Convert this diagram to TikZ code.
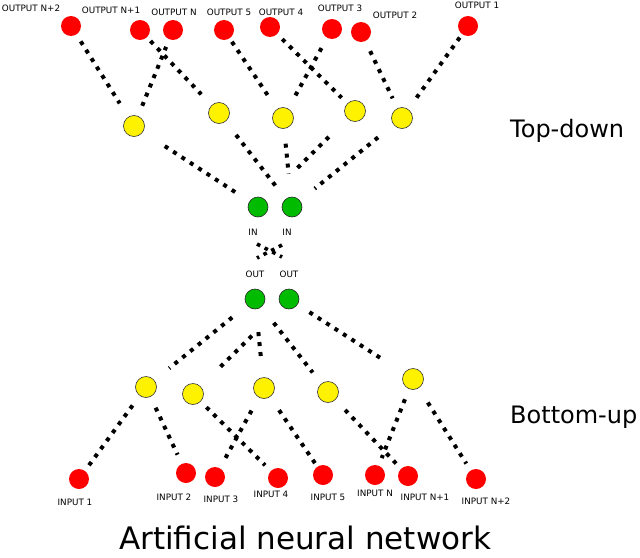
\documentclass[tikz,border=0pt]{standalone}
\usepackage{fontspec}
\setmainfont{DejaVu Sans}
\begin{document}
\begin{tikzpicture}[x=1pt,y=-1pt,
  neuron/.style={circle,minimum size=20pt,inner sep=0pt},
  outn/.style={neuron,fill=red},
  hid/.style={neuron,fill=yellow,draw=black!80,line width=0.6pt,minimum size=21pt},
  mid/.style={neuron,fill={rgb,255:red,0;green,187;blue,0},draw=black!85,line width=0.6pt},
  lbl/.style={font=\fontsize{8.8}{10}\selectfont,inner sep=0pt},
  conn/.style={line width=4pt,dash pattern=on 4pt off 6pt}]
\useasboundingbox (0,0) rectangle (640,557);
% outputs
\node[outn] (o6) at (71,26) {};
\node[outn] (o5) at (140,30) {};
\node[outn] (o4) at (173,30) {};
\node[outn] (oc5) at (224,30) {};
\node[outn] (oc4) at (270,27) {};
\node[outn] (oc3) at (332,29) {};
\node[outn] (oc2) at (361,32) {};
\node[outn] (oc1) at (468,26) {};
\node[lbl] (lo6) at (31,8) {OUTPUT N+2};
\node[lbl] (lo5) at (111,10) {OUTPUT N+1};
\node[lbl] (lo4) at (174,12) {OUTPUT N};
\node[lbl] (loc5) at (229,12) {OUTPUT 5};
\node[lbl] (loc4) at (281,12) {OUTPUT 4};
\node[lbl] (loc3) at (340,8) {OUTPUT 3};
\node[lbl] (loc2) at (395,15) {OUTPUT 2};
\node[lbl] (loc1) at (477,5) {OUTPUT 1};
% top hidden
\node[hid] (y1) at (134,126) {};
\node[hid] (y2) at (219,113) {};
\node[hid] (y3) at (283,118) {};
\node[hid] (y4) at (355,111) {};
\node[hid] (y5) at (402,118) {};
% middle
\node[mid] (g1) at (258,207) {};
\node[mid] (g2) at (292,207) {};
\node[lbl] (lin1) at (253,232) {IN};
\node[lbl] (lin2) at (287,232) {IN};
\node[lbl] (lout1) at (255,274) {OUT};
\node[lbl] (lout2) at (289,274) {OUT};
\node[mid] (h1) at (255,299) {};
\node[mid] (h2) at (289,299) {};
% bottom hidden
\node[hid] (b1) at (146,387) {};
\node[hid] (b2) at (193,394) {};
\node[hid] (b3) at (264,388) {};
\node[hid] (b4) at (328,392) {};
\node[hid] (b5) at (413,379) {};
% inputs
\node[outn] (i1) at (79,479) {};
\node[outn] (i2) at (186,473) {};
\node[outn] (i3) at (215,477) {};
\node[outn] (i4) at (278,478) {};
\node[outn] (i5) at (323,475) {};
\node[outn] (iN) at (375,475) {};
\node[outn] (iN1) at (408,476) {};
\node[outn] (iN2) at (476,479) {};
\node[lbl] (li1) at (75,502) {INPUT 1};
\node[lbl] (li2) at (174,497) {INPUT 2};
\node[lbl] (li3) at (221,499) {INPUT 3};
\node[lbl] (li4) at (271,494) {INPUT 4};
\node[lbl] (li5) at (328,497) {INPUT 5};
\node[lbl] (liN) at (375,493) {INPUT N};
\node[lbl] (liN1) at (425,497) {INPUT N+1};
\node[lbl] (liN2) at (486,501) {INPUT N+2};
% texts
\node[anchor=base west,inner sep=0pt,font=\fontsize{24}{28}\selectfont] (td) at (510,137) {Top-down};
\node[anchor=base west,inner sep=0pt,font=\fontsize{24}{28}\selectfont] (bu) at (510,423) {Bottom-up};
\node[anchor=base west,inner sep=0pt,text depth=0pt,font=\fontsize{31}{36}\selectfont] (title) at (119,549) {Artificial neural network};
% top connectors
\draw[conn,shorten <=8pt,shorten >=16pt] (o6) -- (y1);
\draw[conn,shorten <=11pt,shorten >=8pt] (y1) -- (o4);
\draw[conn,shorten <=5pt,shorten >=15pt] (o5) -- (y2);
\draw[conn,shorten <=4pt,shorten >=15pt] (oc5) -- (y3);
\draw[conn,shorten <=7pt,shorten >=8pt] (oc4) -- (y4);
\draw[conn,shorten <=15pt,shorten >=8pt] (y3) -- (oc3);
\draw[conn,shorten <=11pt,shorten >=11pt] (oc2) -- (y5);
\draw[conn,shorten <=4pt,shorten >=12pt] (oc1) -- (y5);
\draw[conn,shorten <=26pt,shorten >=15pt] (y1) -- (g1);
\draw[conn,shorten <=17pt,shorten >=15pt] (y2) -- (g2);
\draw[conn,shorten <=15pt,shorten >=23pt] (y3) -- (g2);
\draw[conn,shorten <=26pt,shorten >=41pt] (y4) -- (g1);
\draw[conn,shorten <=20pt,shorten >=19pt] (y5) -- (g2);
% cross
\coordinate (xa1) at (257,244);
\coordinate (xa2) at (282,257);
\coordinate (xb1) at (282,245);
\coordinate (xb2) at (257,258);
\draw[conn,line width=3.6pt,dash pattern=on 3.6pt off 5pt] (xa1) -- (xa2);
\draw[conn,line width=3.6pt,dash pattern=on 3.6pt off 5pt] (xb1) -- (xb2);
% bottom connectors
\draw[conn,shorten <=19pt,shorten >=19pt] (h1) -- (b1);
\draw[conn,shorten <=42pt,shorten >=25pt] (h2) -- (b2);
\draw[conn,shorten <=23pt,shorten >=17pt] (h1) -- (b3);
\draw[conn,shorten <=20pt,shorten >=14pt] (h1) -- (b4);
\draw[conn,shorten <=14pt,shorten >=26pt] (h2) -- (b5);
\draw[conn,shorten <=12pt,shorten >=4pt] (b1) -- (i1);
\draw[conn,shorten <=12pt,shorten >=10pt] (b1) -- (i2);
\draw[conn,shorten <=8pt,shorten >=8pt] (b2) -- (i4);
\draw[conn,shorten <=15pt,shorten >=11pt] (b3) -- (i3);
\draw[conn,shorten <=16pt,shorten >=4pt] (b3) -- (i5);
\draw[conn,shorten <=14pt,shorten >=6pt] (b4) -- (iN1);
\draw[conn,shorten <=11pt,shorten >=8pt] (b5) -- (iN);
\draw[conn,shorten <=17pt,shorten >=8pt] (b5) -- (iN2);
\end{tikzpicture}
\end{document}
